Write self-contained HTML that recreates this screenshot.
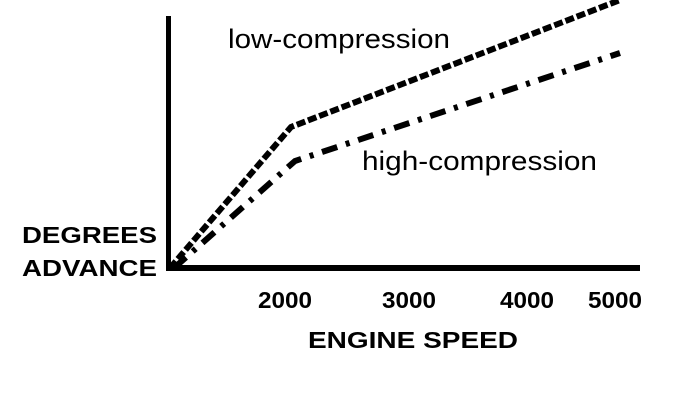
<!DOCTYPE html>
<html><head><style>
html,body{margin:0;padding:0;background:#fff;}
svg{display:block;}
text{font-family:"Liberation Sans",sans-serif;fill:#000;}
</style></head><body>
<svg width="688" height="410" viewBox="0 0 688 410">
<rect x="166" y="16" width="5" height="255" fill="#000"/>
<rect x="166" y="265" width="474" height="6" fill="#000"/>
<polyline points="170,268 291,127 620,0" fill="none" stroke="#000" stroke-width="6" stroke-dasharray="9,3"/>
<polyline points="174,268 295,161 620,53" fill="none" stroke="#000" stroke-width="6" stroke-dasharray="16,9,4,9"/>
<text x="228" y="48" font-size="27" textLength="222" lengthAdjust="spacingAndGlyphs">low-compression</text>
<text x="362" y="170" font-size="27" textLength="235" lengthAdjust="spacingAndGlyphs">high-compression</text>
<text x="22" y="243" font-size="23" font-weight="bold" textLength="135" lengthAdjust="spacingAndGlyphs">DEGREES</text>
<text x="22" y="276" font-size="23" font-weight="bold" textLength="135" lengthAdjust="spacingAndGlyphs">ADVANCE</text>
<text x="258" y="308" font-size="23" font-weight="bold" textLength="54" lengthAdjust="spacingAndGlyphs">2000</text>
<text x="382" y="308" font-size="23" font-weight="bold" textLength="54" lengthAdjust="spacingAndGlyphs">3000</text>
<text x="500" y="308" font-size="23" font-weight="bold" textLength="54" lengthAdjust="spacingAndGlyphs">4000</text>
<text x="588" y="308" font-size="23" font-weight="bold" textLength="54" lengthAdjust="spacingAndGlyphs">5000</text>
<text x="308" y="348" font-size="23" font-weight="bold" textLength="210" lengthAdjust="spacingAndGlyphs">ENGINE SPEED</text>
</svg>
</body></html>
